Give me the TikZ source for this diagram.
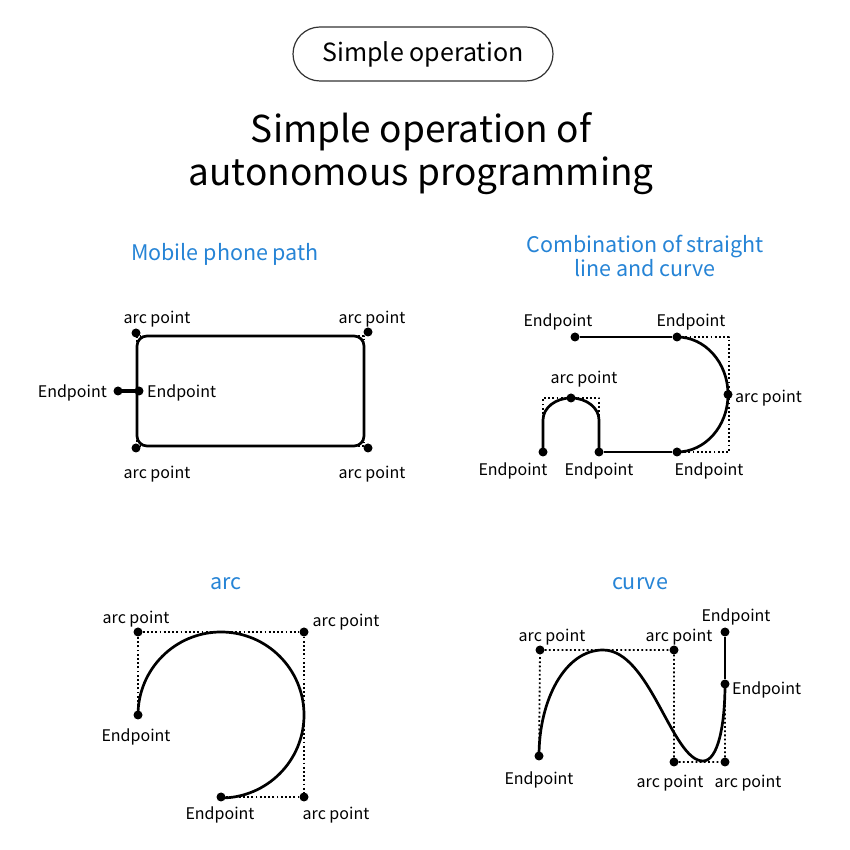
\documentclass[tikz,border=0pt]{standalone}
\usepackage{fontspec}
\setmainfont{Noto Sans CJK SC}
\usetikzlibrary{positioning}
\definecolor{headblue}{RGB}{38,132,214}

\begin{document}
\begin{tikzpicture}[x=1pt,y=1pt,line join=round,
  dot/.style={circle,fill=black,inner sep=0pt,minimum size=9pt},
  lab/.style={font=\fontsize{16}{20}\selectfont,inner sep=0pt},
  head/.style={font=\fontsize{21.5}{22}\selectfont,text=headblue,align=center,inner sep=0pt},
  path line/.style={line width=2.7pt},
  guide/.style={line width=1.8pt,dash pattern=on 1.8pt off 2.4pt}]
\useasboundingbox[fill=white] (0,0) rectangle (850,850);

% Title
\node[draw=black!80,line width=1.2pt,rounded corners=27pt,minimum width=260pt,minimum height=54pt,
  font=\fontsize{25}{30}\selectfont] (pill) at (423,796) {Simple operation};
\node[font=\fontsize{37}{43}\selectfont,align=center] (title) at (421,696) {Simple operation of\\autonomous programming};

% Mobile phone path
\node[head] (h1) at (225,596) {Mobile phone path};
\draw[guide,line width=1.2pt] (137,504) -- (137,514) -- (147,514);
\draw[guide,line width=1.2pt] (354,514) -- (364,514) -- (364,504);
\draw[guide,line width=1.2pt] (137,414) -- (137,404) -- (147,404);
\draw[guide,line width=1.2pt] (354,404) -- (364,404) -- (364,414);
\draw[path line,rounded corners=10pt] (137,404) rectangle (364,514);
\node[dot] (p1) at (136,517) {};
\node[dot] (p2) at (368,518) {};
\node[dot] (p3) at (136,402) {};
\node[dot] (p4) at (368,402) {};
\node[dot] (pe1) at (118,459) {};
\node[dot] (pe2) at (139,459) {};
\draw[line width=4pt] (pe1.center) -- (pe2.center);
\node[lab] (tp1) at (157,531) {arc point};
\node[lab] (tp2) at (372,531) {arc point};
\node[lab] (tp3) at (157,376) {arc point};
\node[lab] (tp4) at (372,376) {arc point};
\node[lab,anchor=east] (tpe1) at (107,457) {Endpoint};
\node[lab,anchor=west] (tpe2) at (147,457) {Endpoint};

% Combination of straight line and curve
\node[head] (h2) at (645,594) {Combination of straight\\line and curve};
\draw[guide] (677,513) -- (729,513) -- (729,398) -- (677,398);
\draw[guide] (543,432) -- (543,452) -- (599,452) -- (599,432);
\node[dot] (c1) at (575,513) {};
\node[dot] (c2) at (677,513) {};
\node[dot] (c3) at (728,455.5) {};
\node[dot] (c4) at (677,398) {};
\node[dot] (c5) at (599,398) {};
\node[dot] (c6) at (571,452) {};
\node[dot] (c7) at (543,398) {};
\draw[path line] (c1) -- (c2);
\draw[path line] (c2.center) arc[start angle=90,end angle=-90,x radius=51,y radius=57.5];
\draw[path line] (c4) -- (c5);
\draw[path line] (c5.center) -- (599,430) arc[start angle=0,end angle=180,x radius=28,y radius=22] -- (c7.center);
\node[lab] (tc1) at (558,528) {Endpoint};
\node[lab] (tc2) at (691,528) {Endpoint};
\node[lab,anchor=west] (tc3) at (735,452) {arc point};
\node[lab] (tc4) at (709,379) {Endpoint};
\node[lab] (tc5) at (599,379) {Endpoint};
\node[lab] (tc6) at (584,471) {arc point};
\node[lab] (tc7) at (513,379) {Endpoint};

% arc
\node[head] (h3) at (226,266) {arc};
\node[dot] (a1) at (138,218) {};
\node[dot] (a2) at (304,218) {};
\node[dot] (a3) at (304,53) {};
\node[dot] (a4) at (221,53) {};
\node[dot] (a5) at (138,135) {};
\draw[guide] (a5) -- (a1) -- (a2) -- (a3) -- (a4);
\draw[path line] (a5.center) arc[start angle=180,end angle=-90,radius=83];
\node[lab] (ta1) at (136,231) {arc point};
\node[lab] (ta2) at (346,228) {arc point};
\node[lab] (ta3) at (336,35) {arc point};
\node[lab] (ta4) at (220,35) {Endpoint};
\node[lab] (ta5) at (136,113) {Endpoint};

% curve
\node[head] (h4) at (640,266) {curve};
\node[dot] (b1) at (540,200) {};
\node[dot] (b2) at (674,200) {};
\node[dot] (b3) at (674,88) {};
\node[dot] (b4) at (725,88) {};
\node[dot] (b5) at (725,166) {};
\node[dot] (b6) at (725,218) {};
\node[dot] (b7) at (539,94) {};
\draw[guide] (b7) -- (b1) -- (b2) -- (b3) -- (b4) -- (b5);
\draw[path line] (b7.center) .. controls (539,150) and (565,200) .. (603,200)
  .. controls (650,200) and (672,89) .. (703,89)
  .. controls (718,89) and (725,125) .. (b5.center);
\draw[path line] (b5) -- (b6);
\node[lab] (tb1) at (552,213) {arc point};
\node[lab] (tb2) at (679,213) {arc point};
\node[lab] (tb3) at (670,67) {arc point};
\node[lab] (tb4) at (748,67) {arc point};
\node[lab,anchor=west] (tb5) at (732,160) {Endpoint};
\node[lab] (tb6) at (736,233) {Endpoint};
\node[lab] (tb7) at (539,70) {Endpoint};

\end{tikzpicture}
\end{document}
